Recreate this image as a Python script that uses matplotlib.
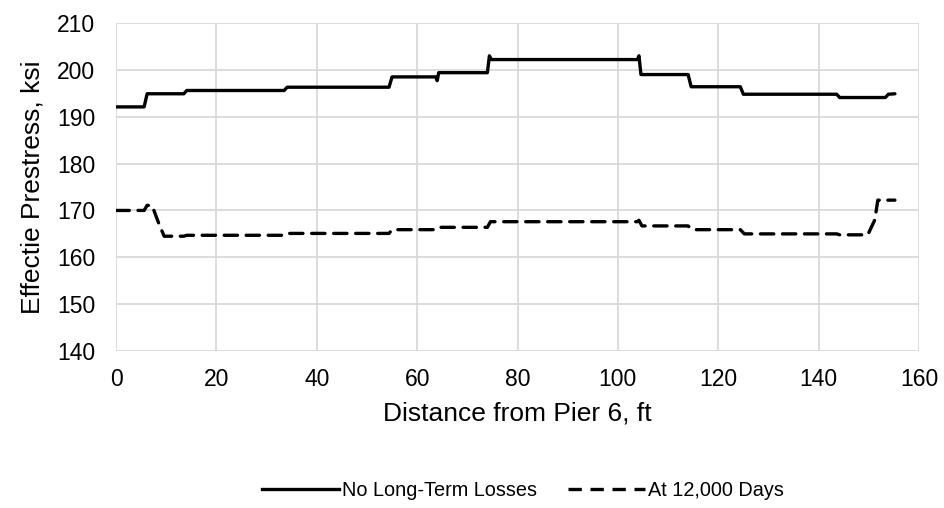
import matplotlib
matplotlib.use("Agg")
import matplotlib.pyplot as plt
from matplotlib.lines import Line2D

plt.rcParams['font.family'] = ['Liberation Sans', 'DejaVu Sans']

# Distance along the span (ft) and effective prestress (ksi)
no_loss_x = [0, 5.6, 6.2, 13.5, 14.1, 33.5, 34.1, 54.4, 55.0, 63.7, 64.0, 64.3,
             74.0, 74.4, 74.8, 103.9, 104.2, 104.6, 114.0, 114.6, 124.4, 125.0,
             143.6, 144.2, 153.3, 153.9, 155.2]
no_loss_y = [192.1, 192.1, 194.9, 194.9, 195.6, 195.6, 196.3, 196.3, 198.5, 198.5,
             197.7, 199.4, 199.4, 203.0, 202.2, 202.2, 203.0, 199.0, 199.0, 196.4,
             196.4, 194.8, 194.8, 194.1, 194.1, 194.8, 194.9]

days_x = [0, 5.6, 6.2, 7.2, 8.6, 9.6, 13.5, 14.1, 33.5, 34.1, 54.4, 55.0, 63.7,
          64.3, 74.0, 74.6, 103.9, 104.2, 104.8, 114.0, 114.8, 124.4, 125.2,
          143.6, 144.2, 149.8, 151.2, 151.8, 155.2]
days_y = [170.0, 170.0, 171.1, 171.0, 167.0, 164.5, 164.5, 164.7, 164.7, 165.1,
          165.1, 165.9, 165.9, 166.4, 166.4, 167.6, 167.6, 167.9, 166.7, 166.7,
          165.9, 165.9, 165.0, 165.0, 164.8, 164.8, 168.0, 172.2, 172.2]

x_ticks = [0, 20, 40, 60, 80, 100, 120, 140, 160]
y_ticks = [140, 150, 160, 170, 180, 190, 200, 210]

fig = plt.figure(figsize=(9.44, 5.08), dpi=100)
ax = fig.add_axes([0.1229, 0.309, 0.8506, 0.6457])

ax.plot(no_loss_x, no_loss_y, color='black', lw=2.4, solid_joinstyle='round',
        solid_capstyle='round', label='No Long-Term Losses', zorder=3)
ax.plot(days_x, days_y, color='black', lw=2.4, dashes=(4, 2.6),
        dash_capstyle='round', label='At 12,000 Days', zorder=3)

ax.set_xlim(0, 160)
ax.set_ylim(140, 210)
ax.set_xticks(x_ticks)
ax.set_yticks(y_ticks)
ax.grid(True, color='#d9d9d9', lw=1.3)
ax.set_axisbelow(True)
for s in ax.spines.values():
    s.set_visible(False)
ax.tick_params(length=0, labelsize=16.5, colors='#000000', pad=12)
ax.tick_params(axis='y', pad=15)

ax.set_xlabel('Distance from Pier 6, ft', fontsize=19, labelpad=8)
ax.set_ylabel('Effectie Prestress, ksi', fontsize=19, labelpad=9)

handles = [Line2D([], [], color='black', lw=2.4),
           Line2D([], [], color='black', lw=2.4, dashes=(4, 2.6))]
fig.legend(handles, ['No Long-Term Losses', 'At 12,000 Days'],
           loc='center', bbox_to_anchor=(0.554, 0.035), ncol=2, frameon=False,
           fontsize=14.3, handlelength=3.85, handletextpad=0.15, columnspacing=1.6)

fig.savefig('out.png', dpi=100, facecolor='white')
